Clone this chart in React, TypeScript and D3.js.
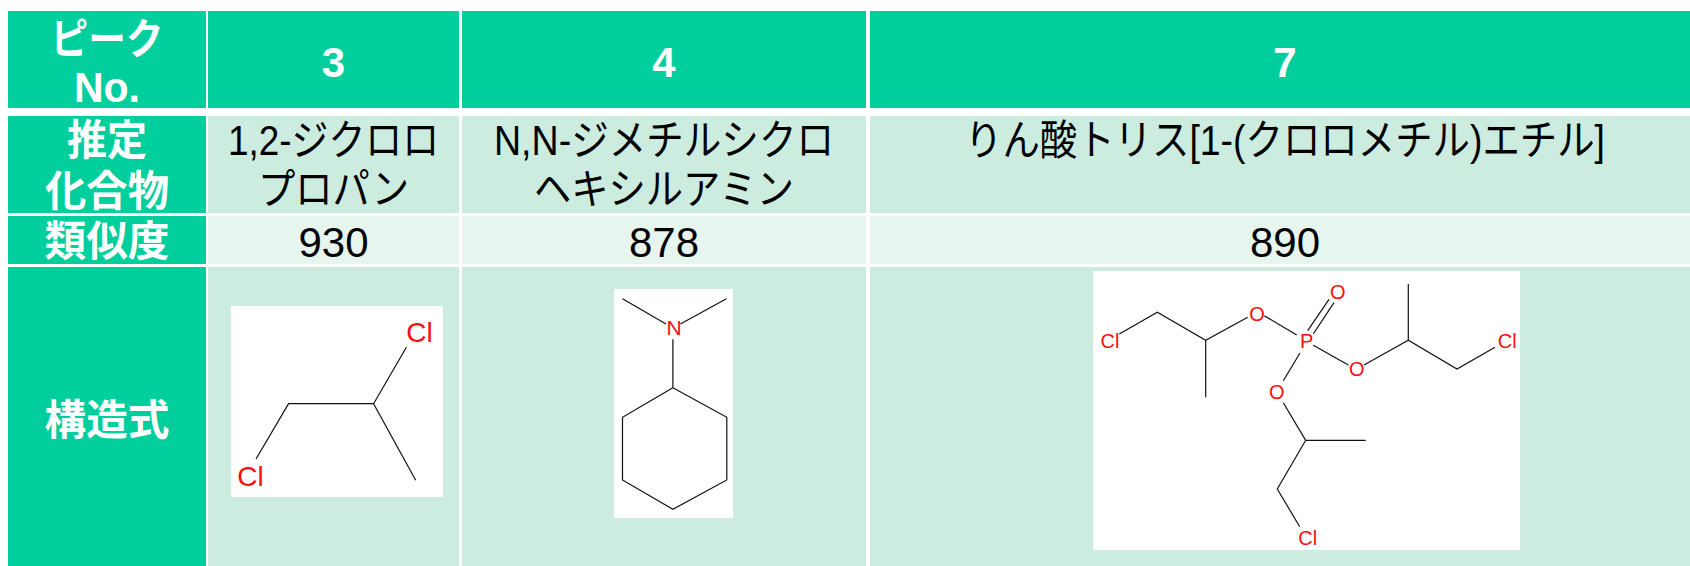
import React from "react";
import * as d3 from "d3";

const WIDTH = 1690;
const HEIGHT = 566;

const GREEN = "#00CE9C";
const LIGHT = "#CCECE0";
const PALE = "#E7F5EF";

const columnEdges: [number, number][] = [[8, 206], [208, 459], [462, 866], [870, 1700]];
const rowEdges: [number, number][] = [[11, 108], [116, 213], [216, 264], [267, 566]];

const peakNumbers = ["3", "4", "7"];
const similarity = ["930", "878", "890"];
const rowLabels = [["ピーク", "No."], ["推定", "化合物"], ["類似度"], ["構造式"]];
const compoundLines = [
  ["1,2-ジクロロ", "プロパン"],
  ["N,N-ジメチルシクロ", "ヘキシルアミン"],
  ["りん酸トリス[1-(クロロメチル)エチル]"],
];

type Pt = [number, number];
type Atom = { t: string; p: Pt };

// Structures, in the pixel units of each picture
const box1 = { x: 231, y: 306, w: 212, h: 191, size: 28 };
const bonds1: Pt[][] = [
  [[25, 153], [57.6, 97.7], [142.6, 97.7], [175.4, 41.3]],
  [[142.6, 97.7], [184.7, 174.3]],
];
const atoms1: Atom[] = [
  { t: "Cl", p: [188.6, 25.7] },
  { t: "Cl", p: [19.4, 169.7] },
];

const box2 = { x: 614, y: 289, w: 119, h: 229, size: 21 };
const bonds2: Pt[][] = [
  [[8.5, 9.7], [52, 35]],
  [[112.4, 9.7], [66.4, 35]],
  [[58.9, 50.3], [58.9, 98.7]],
  [[58.9, 98.7], [112.8, 128.3], [112.8, 191], [58.9, 220.3], [8.5, 191], [8.5, 128.3], [58.9, 98.7]],
];
const atoms2: Atom[] = [{ t: "N", p: [60, 38.7] }];

const box3 = { x: 1093, y: 271, w: 427, h: 279, size: 20 };
const bonds3: Pt[][] = [
  [[26.3, 63], [64.3, 41.3], [112.7, 69.3], [154.7, 46.3]],
  [[112.7, 69.3], [112.7, 126.3]],
  [[171.3, 44.7], [203.7, 64]],
  [[214.7, 59.7], [236, 28.3]],
  [[220.3, 63], [241, 31.7]],
  [[220.3, 74.3], [255.3, 94]],
  [[271, 94], [315.3, 69.3], [364, 98], [402, 76.3]],
  [[315.3, 69.3], [315.3, 13]],
  [[207, 82], [190.3, 109.7]],
  [[190.3, 131.7], [212.7, 169.3], [272.7, 169.3]],
  [[212.7, 169.3], [184.3, 218], [206.7, 255.7]],
];
const atoms3: Atom[] = [
  { t: "Cl", p: [17, 70] },
  { t: "O", p: [164, 42.3] },
  { t: "O", p: [244.7, 21] },
  { t: "P", p: [213.7, 70] },
  { t: "O", p: [263.7, 98] },
  { t: "Cl", p: [414.3, 70] },
  { t: "O", p: [183.7, 121] },
  { t: "Cl", p: [214.7, 266.7] },
];

const LATIN = "'Liberation Sans', Arial, sans-serif";
const SANS = "'Liberation Sans', 'Noto Sans CJK JP', sans-serif";

function Label(props: {
  x: number; y: number; text: string; fill: string; bold?: boolean; width?: number; size?: number;
}) {
  const { x, y, text, fill, bold, width, size = 42 } = props;
  const extra = width ? { textLength: width, lengthAdjust: "spacingAndGlyphs" as const } : {};
  return (
    <text x={x} y={y} textAnchor="middle" fill={fill} fontFamily={SANS}
      fontSize={size} fontWeight={bold ? 700 : 400} {...extra}>
      {text}
    </text>
  );
}

function Structure(props: { box: typeof box1; bonds: Pt[][]; atoms: Atom[] }) {
  const { box, bonds, atoms } = props;
  const sx = d3.scaleLinear().domain([0, box.w]).range([box.x, box.x + box.w]);
  const sy = d3.scaleLinear().domain([0, box.h]).range([box.y, box.y + box.h]);
  const line = d3.line<Pt>().x((d) => sx(d[0])).y((d) => sy(d[1]));
  return (
    <g>
      <rect x={box.x} y={box.y} width={box.w} height={box.h} fill="#fff" />
      {bonds.map((b, i) => (
        <path key={i} d={line(b) ?? ""} fill="none" stroke="#111" strokeWidth={1.2} />
      ))}
      {atoms.map((a, i) => (
        <text key={i} x={sx(a.p[0])} y={sy(a.p[1])} dy="0.36em" textAnchor="middle"
          fill="#FF0D0D" fontFamily={LATIN} fontSize={box.size}>
          {a.t}
        </text>
      ))}
    </g>
  );
}

const rowFills = [GREEN, LIGHT, PALE, LIGHT];

// Widths of the condensed lines, as measured on the reference
const labelWidths = [[113, 66], [80, 124], [125], [125]];
const labelBaselines = [[54, 102], [155, 206], [256], [435]];
const compoundWidths = [[211, 151], [340, 260], [640]];
const compoundBaselines = [155, 204];

export default function App() {
  const cx = (i: number) => (columnEdges[i][0] + columnEdges[i][1]) / 2;
  return (
    <svg width={WIDTH} height={HEIGHT} viewBox={`0 0 ${WIDTH} ${HEIGHT}`}
      style={{ position: "absolute", left: 0, top: 0, background: "#fff" }}>
      {rowEdges.map((r, ri) =>
        columnEdges.map((c, ci) => (
          <rect key={`${ri}-${ci}`} x={c[0]} y={r[0]} width={c[1] - c[0]} height={r[1] - r[0]}
            fill={ci === 0 ? GREEN : rowFills[ri]} />
        ))
      )}
      {rowLabels.map((lines, ri) =>
        lines.map((t, li) => (
          <Label key={`${ri}-${li}`} x={107} y={labelBaselines[ri][li]} text={t} fill="#fff" bold
            width={labelWidths[ri][li]} />
        ))
      )}
      {peakNumbers.map((t, i) => (
        <Label key={t} x={cx(i + 1)} y={77} text={t} fill="#fff" bold />
      ))}
      {compoundLines.map((lines, i) =>
        lines.map((t, li) => (
          <Label key={t} x={cx(i + 1)} y={compoundBaselines[li]} text={t} fill="#000"
            width={compoundWidths[i][li]} />
        ))
      )}
      {similarity.map((t, i) => (
        <Label key={t} x={cx(i + 1)} y={257} text={t} fill="#000" />
      ))}
      <Structure box={box1} bonds={bonds1} atoms={atoms1} />
      <Structure box={box2} bonds={bonds2} atoms={atoms2} />
      <Structure box={box3} bonds={bonds3} atoms={atoms3} />
    </svg>
  );
}
